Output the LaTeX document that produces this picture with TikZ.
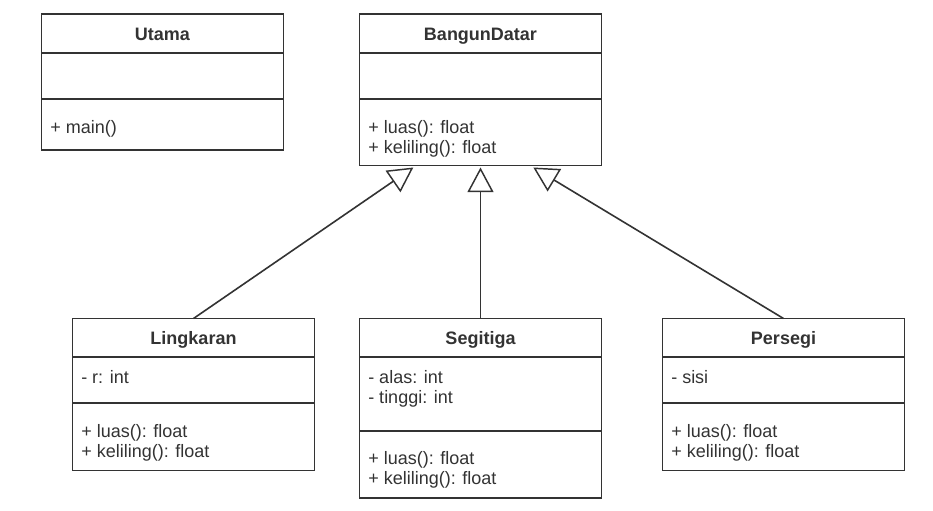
\documentclass[tikz,border=0pt]{standalone}
\usepackage{fontspec}
\setmainfont{Liberation Sans}
\usetikzlibrary{arrows.meta}
\definecolor{ink}{HTML}{333333}
\tikzset{
  box/.style={draw=ink, line width=1.1pt, inner sep=0pt, outer sep=0pt, anchor=north west, minimum width=181.5pt},
  sepline/.style={draw=ink, line width=1.1pt},
  ttl/.style={font=\bfseries\fontsize{13.5}{15}\selectfont, text=ink, anchor=base, inner sep=0pt},
  mem/.style={font=\fontsize{13.5}{15}\selectfont, text=ink, anchor=base west, inner sep=0pt},
  inherit/.style={draw=ink, line width=1.2pt, -{Triangle[open, length=18.5pt, width=19.5pt, line width=1.1pt]}}
}
\begin{document}
\begin{tikzpicture}[x=0.75pt, y=-0.75pt]
\fill[white] (0,0) rectangle (933,511);
\useasboundingbox (0,0) rectangle (933,511);

% class boxes
\node[box, minimum height=102pt] (ut) at (41.5,14) {};
\node[box, minimum height=113.625pt] (bd) at (359.5,14) {};
\node[box, minimum height=114pt] (li) at (72.5,318.5) {};
\node[box, minimum height=134.625pt] (se) at (359.5,318.5) {};
\node[box, minimum height=114pt] (pe) at (662.5,318.5) {};

% separators
\draw[sepline] (41.5,53) -- (283.5,53);
\draw[sepline] (41.5,99) -- (283.5,99);
\draw[sepline] (359.5,53) -- (601.5,53);
\draw[sepline] (359.5,99) -- (601.5,99);
\draw[sepline] (72.5,357) -- (314.5,357);
\draw[sepline] (72.5,403) -- (314.5,403);
\draw[sepline] (359.5,357) -- (601.5,357);
\draw[sepline] (359.5,431) -- (601.5,431);
\draw[sepline] (662.5,357) -- (904.5,357);
\draw[sepline] (662.5,403) -- (904.5,403);

% titles
\node[ttl] (utT) at (162.5,40) {Utama};
\node[ttl] (bdT) at (480.5,40) {BangunDatar};
\node[ttl] (liT) at (193.5,344.5) {Lingkaran};
\node[ttl] (seT) at (480.5,344.5) {Segitiga};
\node[ttl] (peT) at (783.5,344.5) {Persegi};

% members
\node[mem] (ut1) at (50,133) {+ main()};

\node[mem] (bd1) at (368,133.5) {+ luas(): float};
\node[mem] (bd2) at (368,153.5) {+ keliling(): float};

\node[mem] (li1) at (81,383.5) {- r: int};
\node[mem] (li2) at (81,437) {+ luas(): float};
\node[mem] (li3) at (81,457) {+ keliling(): float};

\node[mem] (se1) at (368,383.5) {- alas: int};
\node[mem] (se2) at (368,403.5) {- tinggi: int};
\node[mem] (se3) at (368,464) {+ luas(): float};
\node[mem] (se4) at (368,484) {+ keliling(): float};

\node[mem] (pe1) at (671,383.5) {- sisi};
\node[mem] (pe2) at (671,437) {+ luas(): float};
\node[mem] (pe3) at (671,457) {+ keliling(): float};

% inheritance connectors
\coordinate (tipL) at ([xshift=-50.4pt, yshift=-1.5pt]bd.south);
\coordinate (tipM) at ([yshift=-1.5pt]bd.south);
\coordinate (tipR) at ([xshift=39.6pt, yshift=-1.5pt]bd.south);
\draw[inherit] (li.north) -- (tipL);
\draw[inherit] (se.north) -- (tipM);
\draw[inherit] (pe.north) -- (tipR);
\end{tikzpicture}
\end{document}
